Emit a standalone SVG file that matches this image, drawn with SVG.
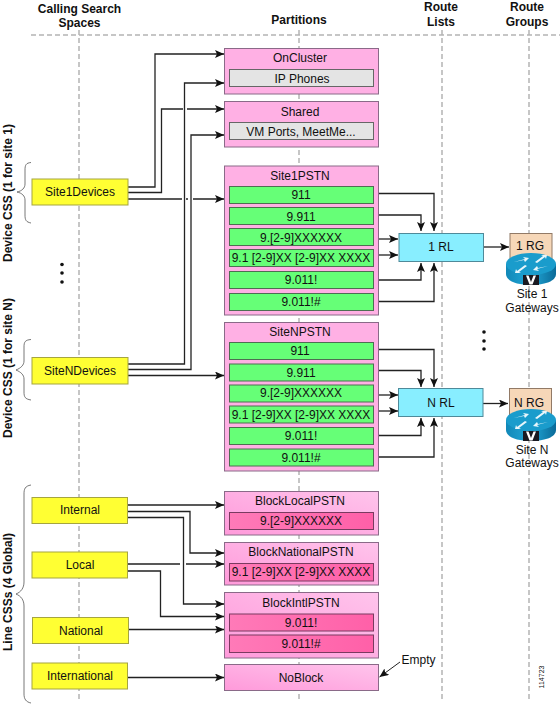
<svg xmlns="http://www.w3.org/2000/svg" width="560" height="704" viewBox="0 0 560 704">
<style>
text{font-family:"Liberation Sans",Arial,sans-serif;font-size:12px;fill:#111;text-anchor:middle}
.h{font-weight:bold}
.g{fill:none;stroke:#b4b4b4;stroke-width:1.5;stroke-dasharray:5 3}
.p{fill:#ffb0e4;stroke:#8a6a88;stroke-width:1}
.q{fill:url(#pg);stroke:#8a6a88;stroke-width:1}
.i{fill:#e4e4e4;stroke:#666;stroke-width:1}
.r{fill:#66ff77;stroke:#4e6e52;stroke-width:1}
.b{fill:url(#hg);stroke:#7a3a60;stroke-width:1}
.y{fill:#ffff33;stroke:#a5a540;stroke-width:1}
.l{fill:#88eeff;stroke:#4f8a9a;stroke-width:1}
.t{fill:#f6d7b8;stroke:#927a66;stroke-width:1}
.c{fill:none;stroke:#222;stroke-width:1.3}
.a{marker-end:url(#ar)}
.br{fill:none;stroke:#555;stroke-width:.8}
</style>
<defs>
<marker id="ar" markerUnits="userSpaceOnUse" markerWidth="10" markerHeight="9" refX="9" refY="4" orient="auto"><path d="M0 0L9 4L0 8L2 4Z" fill="#111"/></marker>
<linearGradient id="pg" x1="1" y1="0" x2="0" y2="1"><stop offset="0" stop-color="#ffc4ec"/><stop offset="1" stop-color="#ff9ada"/></linearGradient>
<linearGradient id="hg" x1="0" y1="0" x2="1" y2="0"><stop offset="0" stop-color="#ff7ab8"/><stop offset="1" stop-color="#ff60a8"/></linearGradient>
<linearGradient id="rb" x1="0" y1="0" x2="1" y2="0"><stop offset="0" stop-color="#1188b8"/><stop offset=".5" stop-color="#22a8d8"/><stop offset="1" stop-color="#0a6a98"/></linearGradient>
<g id="router">
<path d="M-25 0V10C-25 17 -14 21 0 21S25 17 25 10V0Z" fill="url(#rb)"/>
<ellipse cx="0" cy="0" rx="25" ry="11" fill="#1a9ccc"/>
<path d="M-17 -2L-6 -5L-8 -7L-2 -6L-6 -2L-7 -4ZM17 2L6 5L8 7L2 6L6 2L7 4ZM4 -2L12 -8L10 -9L16 -9L15 -5L14 -7L6 -1ZM-4 2L-12 8L-10 9L-16 9L-15 5L-14 7L-6 1Z" fill="#e8f6fb"/>
<rect x="-8" y="11" width="16" height="10" fill="#1a1a22"/>
<path d="M-5 11.500L-1.500 20.500H1.500L5 11.500H2.500L0 18L-2.500 11.500Z" fill="#fff"/>
</g>
</defs>
<g id="guides">
<path class="g" d="M31 35H560"/>
<path class="g" d="M79 30V700M299 30V700M442 30V700M529 30V700"/>
</g>
<g id="headers">
<text class="h" x="79.500" y="13">Calling Search</text>
<text class="h" x="79.500" y="27">Spaces</text>
<text class="h" x="299" y="24">Partitions</text>
<text class="h" x="441" y="11">Route</text>
<text class="h" x="441" y="26">Lists</text>
<text class="h" x="527" y="11">Route</text>
<text class="h" x="527" y="26">Groups</text>
<text class="h" transform="translate(12 193) rotate(-90)">Device CSS (1 for site 1)</text>
<text class="h" transform="translate(12 368) rotate(-90)">Device CSS (1 for site N)</text>
<text class="h" transform="translate(12 592) rotate(-90)">Line CSSs (4 Global)</text>
<path class="br" d="M31 162.500C26 163 25 165 25 170V184C25 188 22 191 17 192C22 193 25 196 25 200V215C25 220 26 222 31 223"/>
<path class="br" d="M31 339.500C25 340 24 342 24 347V361C24 365 21 368 16 370C21 372 24 375 24 379V392C24 397 25 399 31 400"/>
<path class="br" d="M31 485C25 486 24 489 24 494V582C24 588 21 592 16 594C21 596 24 600 24 606V694C24 699 26 702 31 703"/>
<circle cx="62" cy="264.500" r="1.800" fill="#111"/><circle cx="62" cy="273" r="1.800" fill="#111"/><circle cx="62" cy="282" r="1.800" fill="#111"/>
<circle cx="484" cy="332" r="1.800" fill="#111"/><circle cx="484" cy="341" r="1.800" fill="#111"/><circle cx="484" cy="349" r="1.800" fill="#111"/>
<text x="540" y="677" transform="rotate(-90 540 677)" style="font-size:7px" dy="4">114723</text>
<text x="401.500" y="664" style="text-anchor:start">Empty</text>
</g>
<g id="connectors">
<path class="c a" d="M128 187H155V54H224"/>
<path class="c a" d="M128 192.500H161.500V109H183M187 109H224"/>
<path class="c a" d="M128 199H182M186 199H188M193 199H224"/>
<path class="c a" d="M128 364H184.500V83H224"/>
<path class="c a" d="M128 369.500H191V135H224"/>
<path class="c a" d="M128 375.500H224"/>
<path class="c a" d="M374 193.500H434V231"/>
<path class="c a" d="M374 215H421V231"/>
<path class="c a" d="M374 239H398"/>
<path class="c a" d="M374 255H398"/>
<path class="c a" d="M374 280H421V263"/>
<path class="c a" d="M374 301.500H434V263"/>
<path class="c a" d="M374 349.500H434V387"/>
<path class="c a" d="M374 370.500H421V387"/>
<path class="c a" d="M374 395H398"/>
<path class="c a" d="M374 411H398"/>
<path class="c a" d="M374 435.500H421V418"/>
<path class="c a" d="M374 457H434V418"/>
<path class="c a" d="M484 247H509"/>
<path class="c a" d="M483 403.500H508"/>
<path class="c a" d="M128 505H224"/>
<path class="c a" d="M128 511.500H190V553H224"/>
<path class="c a" d="M128 517.500H183.500V604H224"/>
<path class="c a" d="M128 564H180M186 564H224"/>
<path class="c a" d="M128 571H160.500V616.500H224"/>
<path class="c a" d="M128 629.500H224"/>
<path class="c a" d="M128 677.500H224"/>
<path class="c a" style="stroke-width:1" d="M400 662L379.500 677"/>
</g>
<g id="OnCluster"><rect class="p" x="224.500" y="48.500" width="154" height="45.500"/><text x="300" y="62">OnCluster</text><rect class="i" x="229.500" y="69.500" width="144" height="17"/><text x="302" y="82.500">IP Phones</text></g>
<g id="Shared"><rect class="p" x="224.500" y="101.500" width="154" height="45.500"/><text x="300" y="116">Shared</text><rect class="i" x="229.500" y="122.500" width="144" height="17"/><text x="301" y="136">VM Ports, MeetMe...</text></g>
<g id="Site1PSTN"><rect class="p" x="224.500" y="166" width="154" height="149"/><text x="300" y="180">Site1PSTN</text>
<rect class="r" x="229.500" y="186.500" width="144" height="17"/><text x="301" y="199">911</text>
<rect class="r" x="229.500" y="207.500" width="144" height="17"/><text x="301" y="221">9.911</text>
<rect class="r" x="229.500" y="228.500" width="144" height="17"/><text x="301" y="241.500">9.[2-9]XXXXXX</text>
<rect class="r" x="229.500" y="249.500" width="144" height="17"/><text x="301" y="262">9.1 [2-9]XX [2-9]XX XXXX</text>
<rect class="r" x="229.500" y="271.500" width="144" height="17"/><text x="301" y="284">9.011!</text>
<rect class="r" x="229.500" y="293.500" width="144" height="17"/><text x="301" y="306">9.011!#</text></g>
<g id="SiteNPSTN"><rect class="p" x="224.500" y="322.500" width="154" height="148.500"/><text x="300" y="336">SiteNPSTN</text>
<rect class="r" x="229.500" y="342.500" width="144" height="17"/><text x="300" y="355">911</text>
<rect class="r" x="229.500" y="364" width="144" height="17"/><text x="301" y="377">9.911</text>
<rect class="r" x="229.500" y="385" width="144" height="17"/><text x="301" y="397">9.[2-9]XXXXXX</text>
<rect class="r" x="229.500" y="406" width="144" height="17"/><text x="301" y="418.500">9.1 [2-9]XX [2-9]XX XXXX</text>
<rect class="r" x="229.500" y="427.500" width="144" height="17"/><text x="301" y="440">9.011!</text>
<rect class="r" x="229.500" y="449" width="144" height="17"/><text x="301" y="462">9.011!#</text></g>
<g id="BlockLocalPSTN"><rect class="q" x="224.500" y="491.500" width="154" height="43.500"/><text x="300" y="505">BlockLocalPSTN</text><rect class="b" x="229.500" y="512.500" width="144" height="17"/><text x="301" y="525">9.[2-9]XXXXXX</text></g>
<g id="BlockNationalPSTN"><rect class="q" x="224.500" y="542.500" width="154" height="42.500"/><text x="301" y="556">BlockNationalPSTN</text><rect class="b" x="229.500" y="563.500" width="144" height="17.500"/><text x="301" y="576">9.1 [2-9]XX [2-9]XX XXXX</text></g>
<g id="BlockIntlPSTN"><rect class="q" x="224.500" y="592.500" width="154" height="65.500"/><text x="301" y="607">BlockIntlPSTN</text><rect class="b" x="229.500" y="614" width="144" height="17"/><text x="301" y="627">9.011!</text><rect class="b" x="229.500" y="635" width="144" height="17.500"/><text x="301" y="648">9.011!#</text></g>
<g id="NoBlock"><rect class="q" x="224.500" y="664.500" width="154" height="26"/><text x="301" y="682">NoBlock</text></g>
<g id="Site1Devices"><rect class="y" x="32" y="179" width="96" height="26"/><text x="80" y="196">Site1Devices</text></g>
<g id="SiteNDevices"><rect class="y" x="32" y="357.500" width="96" height="26.500"/><text x="80" y="375">SiteNDevices</text></g>
<g id="Internal"><rect class="y" x="32" y="497.500" width="95.500" height="26"/><text x="80" y="514">Internal</text></g>
<g id="Local"><rect class="y" x="32" y="552" width="95.500" height="26"/><text x="80" y="569">Local</text></g>
<g id="National"><rect class="y" x="32.500" y="617.500" width="96" height="26"/><text x="81" y="635">National</text></g>
<g id="International"><rect class="y" x="32" y="663" width="95.500" height="26"/><text x="80" y="680">International</text></g>
<g id="RL1"><rect class="l" x="399" y="233.500" width="84.500" height="28"/><text x="441" y="251">1 RL</text></g>
<g id="RLN"><rect class="l" x="398.500" y="388.500" width="84.500" height="28"/><text x="441" y="407">N RL</text></g>
<g id="RG1"><rect class="t" x="510" y="233.500" width="42" height="32"/><text x="530" y="250">1 RG</text><use href="#router" x="531" y="264"/><text x="532" y="298">Site 1</text><text x="532" y="312">Gateways</text></g>
<g id="RGN"><rect class="t" x="509.500" y="388.500" width="42" height="32"/><text x="529" y="407">N RG</text><use href="#router" x="531" y="420"/><text x="532" y="454">Site N</text><text x="532" y="467">Gateways</text></g>
</svg>
